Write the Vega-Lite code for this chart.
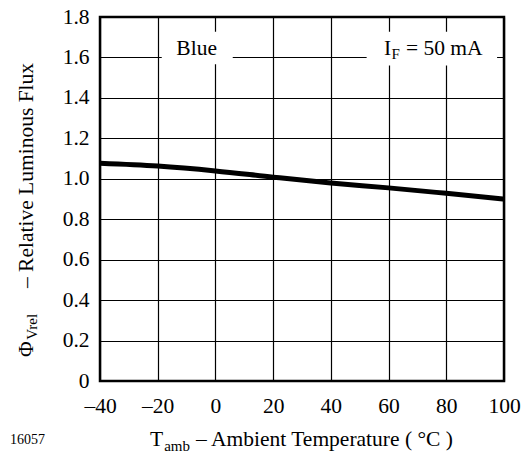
{
  "$schema": "https://vega.github.io/schema/vega-lite/v6.json",
  "width": 404,
  "height": 364,
  "autosize": "none",
  "padding": {"left": 100, "top": 17, "right": 26, "bottom": 74},
  "background": "white",
  "config": {
    "view": {"stroke": "black", "strokeWidth": 2.5},
    "font": "Liberation Serif, Times New Roman, DejaVu Serif, serif",
    "axis": {"labelFont": "Liberation Serif, Times New Roman, DejaVu Serif, serif"},
    "text": {"font": "Liberation Serif, Times New Roman, DejaVu Serif, serif", "color": "black"}
  },
  "layer": [
    {
      "data": {"values": [
        {"x": -18.6, "x2": 6.0, "y": 1.566, "y2": 1.727},
        {"x": 52.4, "x2": 97.6, "y": 1.56, "y2": 1.727}
      ]},
      "mark": {"type": "rect", "fill": "white", "strokeWidth": 0},
      "encoding": {
        "x": {
          "field": "x", "type": "quantitative",
          "scale": {"domain": [-40, 100], "nice": false, "zero": false},
          "axis": {
            "values": [-40, -20, 0, 20, 40, 60, 80, 100],
            "title": null, "grid": true, "gridColor": "black", "gridOpacity": 1, "gridWidth": 1.2,
            "domain": false, "ticks": false, "labelPadding": 14,
            "labelFontSize": 21.5, "labelColor": "black",
            "labelFlush": false, "labelOverlap": false, "labelBound": false,
            "labelExpr": "datum.value < 0 ? '\u2013' + abs(datum.value) : '' + datum.value"
          }
        },
        "x2": {"field": "x2"},
        "y": {
          "field": "y", "type": "quantitative",
          "scale": {"domain": [0, 1.8], "nice": false},
          "axis": {
            "values": [0, 0.2, 0.4, 0.6, 0.8, 1.0, 1.2, 1.4, 1.6, 1.8],
            "title": null, "grid": true, "gridColor": "black", "gridOpacity": 1, "gridWidth": 1.2,
            "domain": false, "ticks": false, "labelPadding": 11,
            "labelFontSize": 21.5, "labelColor": "black",
            "labelFlush": false, "labelOverlap": false, "labelBound": false,
            "labelExpr": "datum.value == 0 ? '0' : format(datum.value, '.1f')"
          }
        },
        "y2": {"field": "y2"}
      }
    },
    {
      "data": {"values": [
        {"temp": -40, "flux": 1.077},
        {"temp": -20, "flux": 1.063},
        {"temp": 0, "flux": 1.039},
        {"temp": 20, "flux": 1.008},
        {"temp": 40, "flux": 0.979},
        {"temp": 60, "flux": 0.955},
        {"temp": 80, "flux": 0.928},
        {"temp": 100, "flux": 0.900}
      ]},
      "mark": {"type": "line", "color": "black", "strokeWidth": 5, "interpolate": "monotone"},
      "encoding": {
        "x": {"field": "temp", "type": "quantitative"},
        "y": {"field": "flux", "type": "quantitative"}
      }
    },
    {
      "data": {"values": [
        {"x": 58.4, "y": 1.612, "label": "I"},
        {"x": 66.0, "y": 1.612, "label": "= 50 mA"},
        {"x": -22.67, "y": -0.321, "label": "T"}
      ]},
      "mark": {"type": "text", "align": "left", "baseline": "alphabetic", "fontSize": 21.5},
      "encoding": {
        "x": {"field": "x", "type": "quantitative"},
        "y": {"field": "y", "type": "quantitative"},
        "text": {"field": "label"}
      }
    },
    {
      "data": {"values": [{"x": -6.5, "y": 1.612, "label": "Blue"}]},
      "mark": {"type": "text", "align": "center", "baseline": "alphabetic", "fontSize": 21.5},
      "encoding": {
        "x": {"field": "x", "type": "quantitative"},
        "y": {"field": "y", "type": "quantitative"},
        "text": {"field": "label"}
      }
    },
    {
      "data": {"values": [{"x": 82.3, "y": -0.321, "label": "\u2013 Ambient Temperature ( \u00b0C )"}]},
      "mark": {"type": "text", "align": "right", "baseline": "alphabetic", "fontSize": 21.5},
      "encoding": {
        "x": {"field": "x", "type": "quantitative"},
        "y": {"field": "y", "type": "quantitative"},
        "text": {"field": "label"}
      }
    },
    {
      "data": {"values": [{"x": 61.0, "y": 1.5925, "label": "F"}]},
      "mark": {"type": "text", "align": "left", "baseline": "alphabetic", "fontSize": 15},
      "encoding": {
        "x": {"field": "x", "type": "quantitative"},
        "y": {"field": "y", "type": "quantitative"},
        "text": {"field": "label"}
      }
    },
    {
      "data": {"values": [{"x": -13.3, "y": -0.346, "label": "amb"}]},
      "mark": {"type": "text", "align": "center", "baseline": "alphabetic", "fontSize": 15},
      "encoding": {
        "x": {"field": "x", "type": "quantitative"},
        "y": {"field": "y", "type": "quantitative"},
        "text": {"field": "label"}
      }
    },
    {
      "data": {"values": [{"x": -71.19, "y": -0.312, "label": "16057"}]},
      "mark": {"type": "text", "align": "left", "baseline": "alphabetic", "fontSize": 14},
      "encoding": {
        "x": {"field": "x", "type": "quantitative"},
        "y": {"field": "y", "type": "quantitative"},
        "text": {"field": "label"}
      }
    },
    {
      "data": {"values": [{"x": -63.2, "y": 0.119, "label": "\u03a6"}]},
      "mark": {"type": "text", "align": "left", "baseline": "alphabetic", "fontSize": 21.5, "angle": 270},
      "encoding": {
        "x": {"field": "x", "type": "quantitative"},
        "y": {"field": "y", "type": "quantitative"},
        "text": {"field": "label"}
      }
    },
    {
      "data": {"values": [{"x": -63.2, "y": 1.573, "label": "\u2013 Relative Luminous Flux"}]},
      "mark": {"type": "text", "align": "right", "baseline": "alphabetic", "fontSize": 21.5, "angle": 270},
      "encoding": {
        "x": {"field": "x", "type": "quantitative"},
        "y": {"field": "y", "type": "quantitative"},
        "text": {"field": "label"}
      }
    },
    {
      "data": {"values": [{"x": -61.8, "y": 0.268, "label": "Vrel"}]},
      "mark": {"type": "text", "align": "center", "baseline": "alphabetic", "fontSize": 15, "angle": 270},
      "encoding": {
        "x": {"field": "x", "type": "quantitative"},
        "y": {"field": "y", "type": "quantitative"},
        "text": {"field": "label"}
      }
    }
  ]
}
